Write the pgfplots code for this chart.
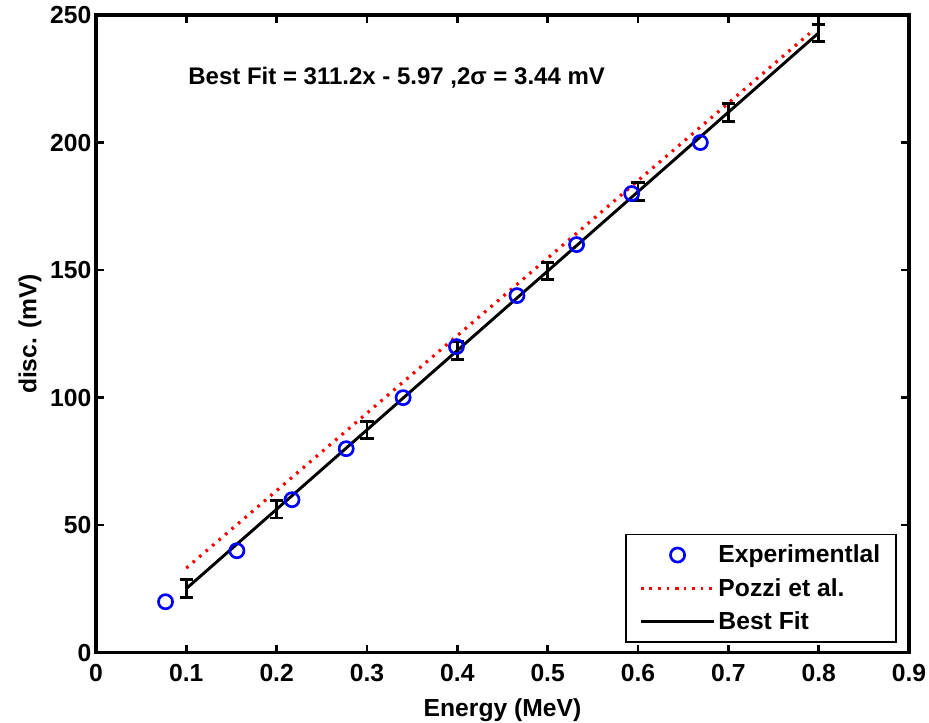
\documentclass[border=0pt]{standalone}
\usepackage{pgfplots}
\pgfplotsset{compat=1.18}
\usepackage{fontspec}
\setmainfont{Liberation Sans}
\begin{document}
\begin{tikzpicture}
\begin{axis}[
  scale only axis,
  width=610pt, height=478.5pt,
  xmin=0, xmax=0.9, ymin=0, ymax=250,
  xtick={0,0.1,...,0.9},
  ytick={0,50,...,250},
  xticklabels={0,0.1,0.2,0.3,0.4,0.5,0.6,0.7,0.8,0.9},
  /pgf/number format/assume math mode=true,
  ticklabel style={font=\fontsize{18.5}{20}\selectfont\bfseries},
  xticklabel style={yshift=-5pt},
  tick align=inside,
  major tick length=6pt,
  tick style={line width=1.8pt, black},
  axis line style={line width=2.4pt},
  xlabel={Energy (MeV)},
  ylabel={disc. (mV)},
  label style={font=\fontsize{18.5}{20}\selectfont\bfseries},
  xlabel style={at={(axis description cs:0.5,-0.09)}, anchor=center},
  ylabel style={at={(axis description cs:-0.081,0.5)}, anchor=center},
  legend style={at={(axis cs:0.8867,3.9)}, anchor=south east,
    font=\fontsize{18.5}{20}\selectfont\bfseries, draw=black, line width=1.2pt,
    cells={anchor=west}, row sep=6pt, inner xsep=10pt, inner ysep=6pt},
  legend image code/.code={\draw[mark repeat=2,mark phase=2,#1] plot coordinates {(0pt,0pt) (27.5pt,0pt) (55pt,0pt)};},
]
\addplot[only marks, mark=o, mark size=5.3pt, blue, mark options={line width=2pt}] coordinates {
(0.077,20) (0.156,40) (0.217,60) (0.277,80) (0.340,100) (0.399,120) (0.466,140) (0.532,160) (0.593,180) (0.669,200)
};
\addlegendentry{Experimentlal}
\addplot[red, line width=2.4pt, dash pattern=on 2pt off 4.4pt] coordinates {(0.1,33.2) (0.79,242.8)};
\addlegendentry{Pozzi et al.}
\addplot[black, line width=2.2pt] coordinates {(0.1,25.15) (0.8,242.99)};
\addlegendentry{Best Fit}
\addplot[black, draw=none, forget plot,
  error bars/.cd, y dir=both, y fixed=3.44,
  error bar style={line width=2.2pt},
  error mark options={rotate=90, mark size=5pt, line width=2.2pt}] coordinates {
(0.1,25.15) (0.2,56.27) (0.3,87.39) (0.4,118.51) (0.5,149.63) (0.6,180.75) (0.7,211.87) (0.8,242.99)
};
\node[anchor=west, font=\fontsize{18}{20}\selectfont\bfseries, inner sep=0pt] at (axis cs:0.102,225.6) {Best Fit = 311.2x - 5.97 ,2σ = 3.44 mV};
\end{axis}
\pgfresetboundingbox
\path[use as bounding box] ([xshift=-72pt,yshift=-52.5pt]current axis.south west) rectangle ([xshift=15pt,yshift=11.25pt]current axis.north east);
\end{tikzpicture}
\end{document}
